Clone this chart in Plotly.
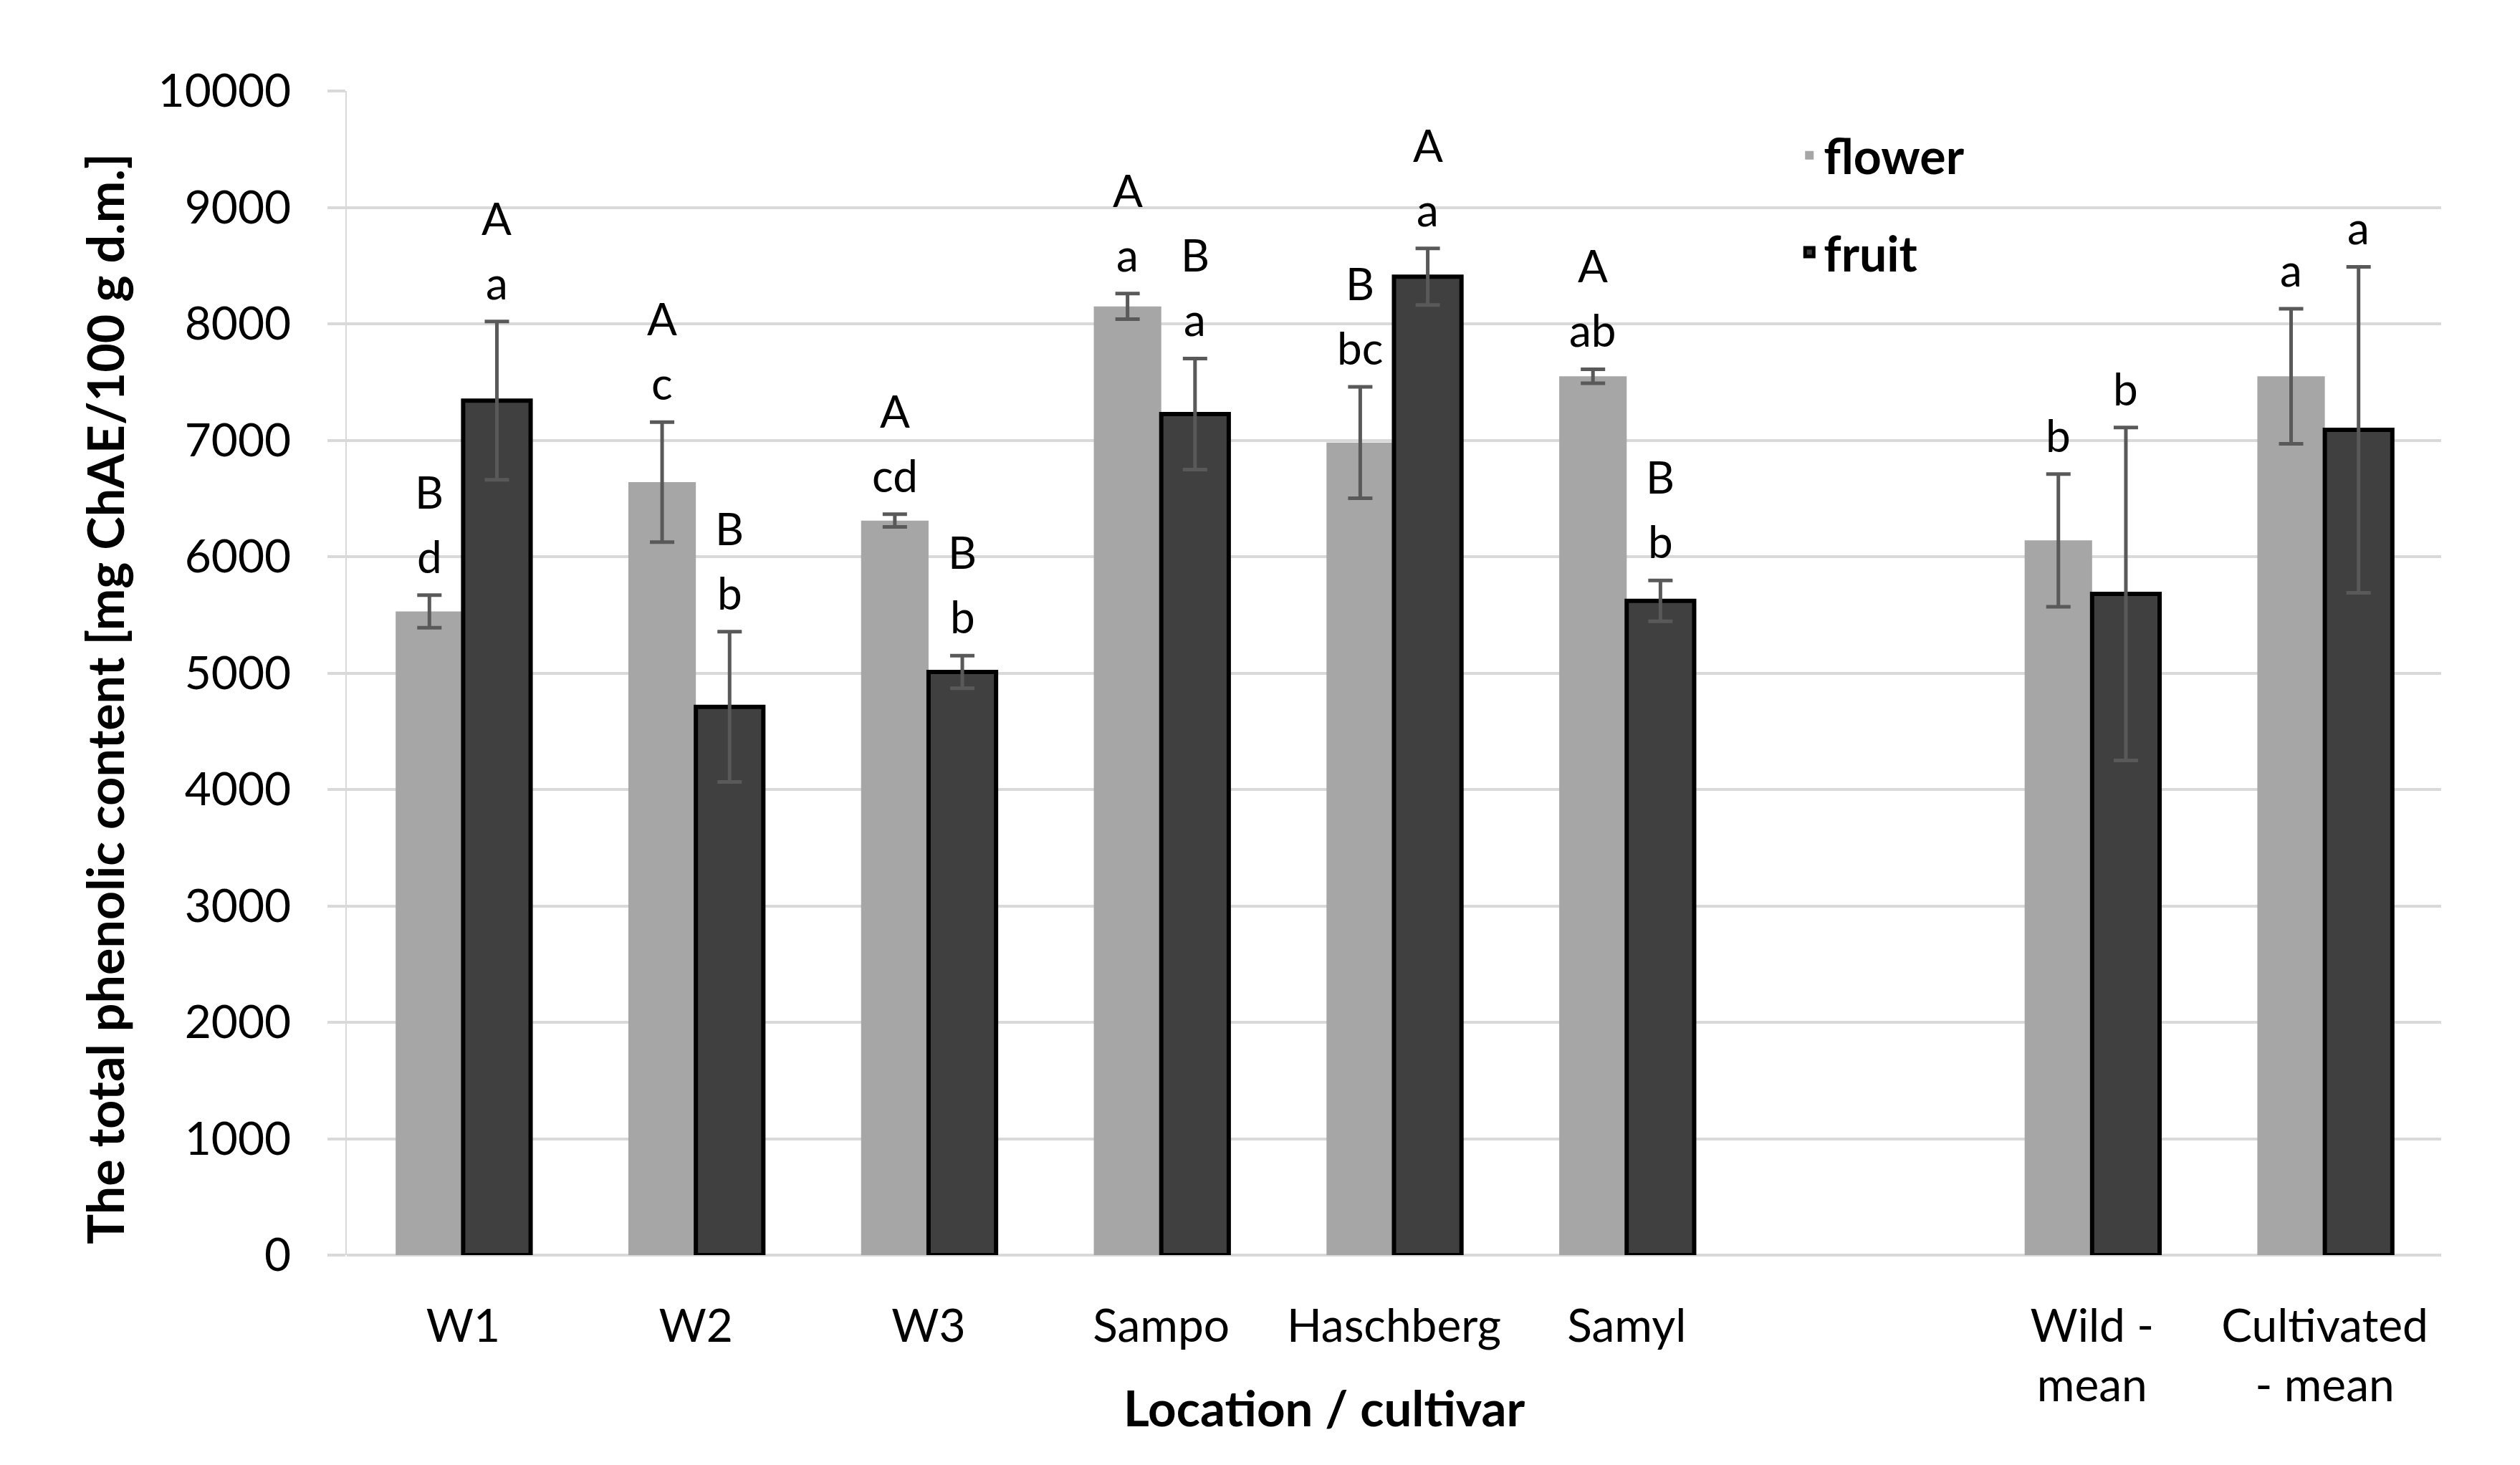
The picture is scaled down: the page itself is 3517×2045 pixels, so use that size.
import plotly.graph_objects as go

# ---- data ----
categories = ["W1", "W2", "W3", "Sampo", "Haschberg", "Samyl", " ", "Wild -<br>mean", "Cultivated<br>- mean"]
flower = [5530, 6640, 6310, 8150, 6980, 7550, None, 6140, 7550]
flower_err = [140, 515, 55, 110, 478, 60, None, 570, 580]
fruit = [7340, 4710, 5010, 7225, 8405, 5620, None, 5680, 7090]
fruit_err = [680, 646, 140, 477, 243, 175, None, 1430, 1400]
flower_upper = ["B", "A", "A", "A", "B", "A", "", "", ""]
flower_lower = ["d", "c", "cd", "a", "bc", "ab", "", "b", "a"]
fruit_upper = ["A", "B", "B", "B", "A", "B", "", "", ""]
fruit_lower = ["a", "b", "b", "a", "a", "b", "", "b", "a"]
y_ticks = list(range(0, 10001, 1000))

# ---- layout constants ----
W, H = 3517, 2045
ML, MR, MT, MB = 476, 118, 119, 301
BARGAP = 0.42
FONT = "Lato"
GRID = "#d9d9d9"

fig = go.Figure()
fig.add_trace(go.Bar(
    name="flower", x=categories, y=flower, legendgroup="flower",
    marker=dict(color="#a6a6a6", line=dict(width=0)),
    error_y=dict(type="data", array=flower_err, visible=True,
                 color="#595959", thickness=5, width=17),
))
fig.add_trace(go.Bar(
    name="fruit", x=categories, y=fruit, legendgroup="fruit",
    marker=dict(color="#404040", line=dict(color="#000000", width=6)),
    error_y=dict(type="data", array=fruit_err, visible=True,
                 color="#595959", thickness=5, width=17),
))

# letter labels above error bars
plot_w = W - ML - MR
cat_px = plot_w / len(categories)
bar_px = cat_px * (1 - BARGAP) / 2
annos = []
series = [
    (flower, flower_err, flower_upper, flower_lower, -bar_px / 2),
    (fruit, fruit_err, fruit_upper, fruit_lower, bar_px / 2),
]
for vals, errs, ups, lows, xs in series:
    for c, v, e, up, lo in zip(categories, vals, errs, ups, lows):
        if v is None:
            continue
        top = v + e
        if lo:
            annos.append(dict(x=c, y=top, xref="x", yref="y", text=lo, showarrow=False,
                              xshift=xs, yshift=16, yanchor="bottom",
                              font=dict(family=FONT, size=62, color="#000000")))
        if up:
            annos.append(dict(x=c, y=top, xref="x", yref="y", text=up, showarrow=False,
                              xshift=xs, yshift=106, yanchor="bottom",
                              font=dict(family=FONT, size=62, color="#000000")))

# axis titles
annos.append(dict(text="The total phenolic content [mg ChAE/100 g d.m.]", xref="paper", yref="paper",
                  x=-0.1155, y=0.478, xanchor="center", yanchor="middle", textangle=-90,
                  showarrow=False, font=dict(family=FONT, size=70, color="#000000", weight="bold")))
annos.append(dict(text="Location / cultivar", xref="paper", yref="paper",
                  x=0.4666, y=-0.131, xanchor="center", yanchor="middle",
                  showarrow=False, font=dict(family=FONT, size=69, color="#000000", weight="bold")))

fig.update_layout(
    width=W, height=H,
    margin=dict(l=ML, r=MR, t=MT, b=MB, autoexpand=False),
    paper_bgcolor="white", plot_bgcolor="white",
    barmode="group", bargap=BARGAP, bargroupgap=0,
    font=dict(family=FONT, size=64, color="#000000"),
    showlegend=True,
    legend=dict(x=0.6915, y=0.976, xanchor="left", yanchor="top",
                font=dict(family=FONT, size=68, color="#000000", weight="bold"),
                tracegroupgap=44, bgcolor="rgba(0,0,0,0)"),
    annotations=annos,
)
fig.update_xaxes(
    showgrid=False, showline=False, ticks="", ticklabelstandoff=56,
    tickfont=dict(family=FONT, size=64, color="#000000"),
)
fig.update_yaxes(
    range=[0, 10000], tickvals=y_ticks, tickformat="d",
    showgrid=True, gridcolor=GRID, gridwidth=4,
    zeroline=True, zerolinecolor=GRID, zerolinewidth=4,
    showline=True, linecolor=GRID, linewidth=2,
    ticks="outside", ticklen=25, tickwidth=4, tickcolor=GRID, ticklabelstandoff=38,
    tickfont=dict(family=FONT, size=64, color="#000000"),
)

fig.write_html("out.html")
